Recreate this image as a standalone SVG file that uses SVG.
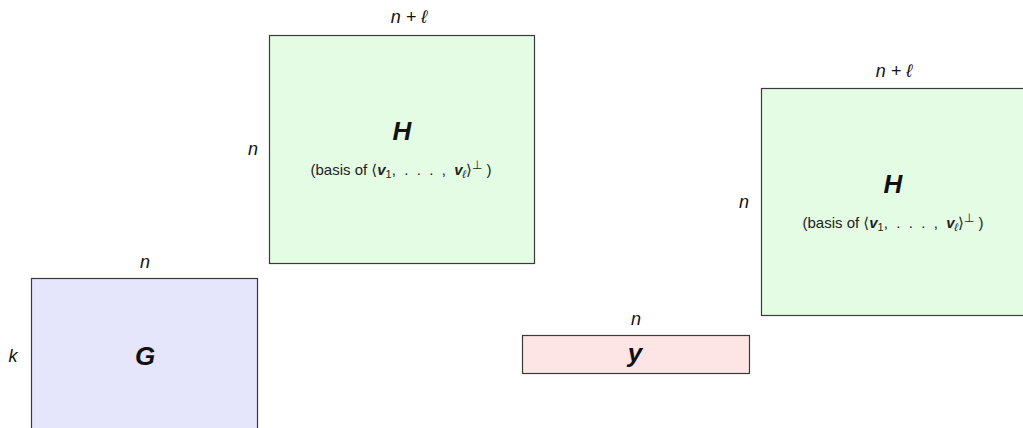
<svg xmlns="http://www.w3.org/2000/svg" width="1023" height="428" viewBox="0 0 1023 428">
<style>
.box{stroke:#3a3a3a;stroke-width:1.2}
.g{fill:#e4fce4}
.b{fill:#e5e5fc}
.p{fill:#fde5e5}
.dim{font-family:"Liberation Sans",Arial,sans-serif;font-style:italic;font-size:18px;fill:#111;text-anchor:middle;dominant-baseline:central}
.big{font-family:"Liberation Sans",Arial,sans-serif;font-style:italic;font-weight:bold;font-size:26px;fill:#111;text-anchor:middle;dominant-baseline:central}
.sub{font-family:"Liberation Sans",Arial,sans-serif;font-size:15px;fill:#222;text-anchor:middle}
.bv{font-weight:bold;font-style:italic}
.it{font-style:italic}
.sym{font-family:"DejaVu Sans",sans-serif;fill:#222}
</style>
<rect width="1023" height="428" fill="#fff"/>
<g id="H1">
<rect class="box g" x="269.5" y="35.5" width="265" height="228"/>
<text class="dim" x="409" y="17">n + ℓ</text>
<text class="dim" x="253" y="149">n</text>
<text class="big" x="402" y="131">H</text>
<text class="sub" x="401" y="175">(basis of <tspan class="sym">⟨</tspan><tspan class="bv">v</tspan><tspan font-size="11" dy="3">1</tspan><tspan dy="-3">,&#160;&#160;.&#160;&#160;.&#160;&#160;.&#160;&#160;,&#160;&#160;</tspan><tspan class="bv">v</tspan><tspan class="it" font-size="11" dy="3">ℓ</tspan><tspan class="sym" dy="-3">⟩</tspan><tspan class="sym" font-size="12" dy="-6">⊥</tspan><tspan dy="6">&#160;)</tspan></text>
</g>
<g id="H2">
<rect class="box g" x="761.5" y="88.5" width="265" height="227"/>
<text class="dim" x="894" y="71">n + ℓ</text>
<text class="dim" x="744" y="202">n</text>
<text class="big" x="893" y="184">H</text>
<text class="sub" x="893" y="228">(basis of <tspan class="sym">⟨</tspan><tspan class="bv">v</tspan><tspan font-size="11" dy="3">1</tspan><tspan dy="-3">,&#160;&#160;.&#160;&#160;.&#160;&#160;.&#160;&#160;,&#160;&#160;</tspan><tspan class="bv">v</tspan><tspan class="it" font-size="11" dy="3">ℓ</tspan><tspan class="sym" dy="-3">⟩</tspan><tspan class="sym" font-size="12" dy="-6">⊥</tspan><tspan dy="6">&#160;)</tspan></text>
</g>
<g id="G">
<rect class="box b" x="31.5" y="278.5" width="226" height="160"/>
<text class="dim" x="145" y="262">n</text>
<text class="dim" x="13" y="356">k</text>
<text class="big" x="145" y="356">G</text>
</g>
<g id="y">
<rect class="box p" x="522.5" y="335.5" width="227" height="38"/>
<text class="dim" x="636" y="319">n</text>
<text class="big" x="635" y="353">y</text>
</g>
<g id="connectors"></g>
</svg>
